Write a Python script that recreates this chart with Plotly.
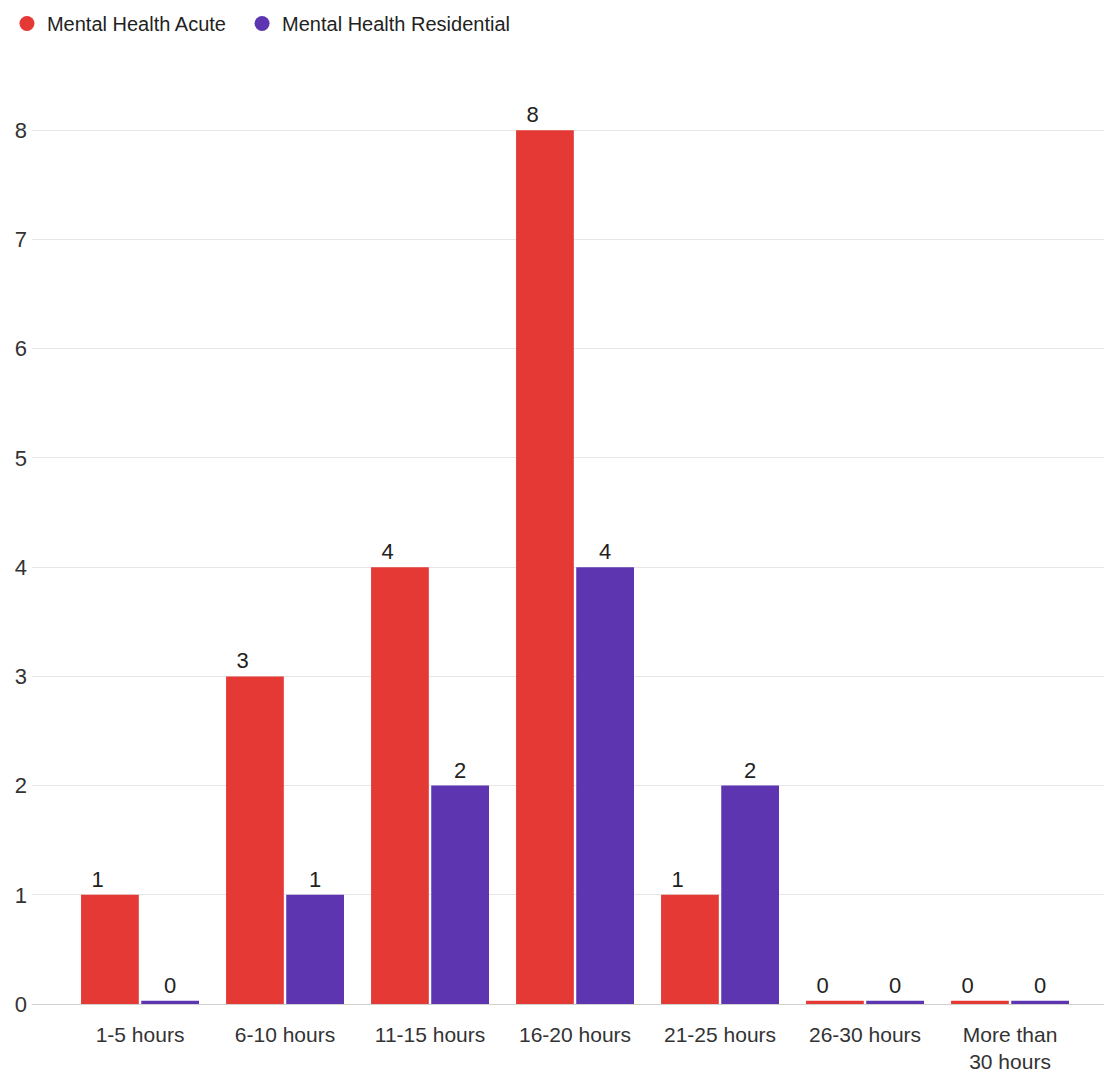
import plotly.graph_objects as go

categories = ["1-5 hours", "6-10 hours", "11-15 hours", "16-20 hours",
              "21-25 hours", "26-30 hours", "More than<br>30 hours"]
acute = [1, 3, 4, 8, 1, 0, 0]
residential = [0, 1, 2, 4, 2, 0, 0]
y_ticks = [0, 1, 2, 3, 4, 5, 6, 7, 8]
series_names = ["Mental Health Acute", "Mental Health Residential"]

RED = "#E53935"
PURPLE = "#5E35B1"
MIN_VISIBLE = 0.03  # zero values drawn as a thin baseline stroke
FONT = "Liberation Sans, Arial, sans-serif"
NBSP = "\u00a0"
LABEL_SIZE = 22

def shown(vals):
    return [v if v > 0 else MIN_VISIBLE for v in vals]

fig = go.Figure()
fig.add_trace(go.Bar(
    name=series_names[0], x=categories, y=shown(acute),
    text=[str(v) + NBSP * 4 for v in acute], textposition="outside",
    marker=dict(color=RED, line=dict(width=0)),
    textfont=dict(family=FONT, size=LABEL_SIZE, color="#222"),
    cliponaxis=False, showlegend=False, hoverinfo="skip",
))
fig.add_trace(go.Bar(
    name=series_names[1], x=categories, y=shown(residential),
    text=[str(v) for v in residential], textposition="outside",
    marker=dict(color=PURPLE, line=dict(width=0)),
    textfont=dict(family=FONT, size=LABEL_SIZE, color="#222"),
    cliponaxis=False, showlegend=False, hoverinfo="skip",
))
# legend entries with round markers
legend_pad = [NBSP * 2, ""]
for name, col, pad in zip(series_names, [RED, PURPLE], legend_pad):
    fig.add_trace(go.Scatter(
        x=[None], y=[None], mode="markers", name=name + pad,
        marker=dict(symbol="circle", size=15, color=col),
    ))

fig.update_layout(
    width=1104, height=1076,
    margin=dict(l=32, r=0, t=43, b=72, autoexpand=False),
    paper_bgcolor="white", plot_bgcolor="white",
    barmode="group", bargap=0.17, bargroupgap=0.04,
    font=dict(family=FONT, size=LABEL_SIZE, color="#444"),
    showlegend=True,
    legend=dict(orientation="h", xref="container", x=0.0063, xanchor="left",
                yref="container", y=0.9963, yanchor="top",
                font=dict(family=FONT, size=20, color="#222"),
                traceorder="normal"),
    xaxis=dict(range=[-0.745, 6.648], showgrid=False, showline=False,
               ticks="", ticklabelstandoff=16,
               tickfont=dict(family=FONT, size=21, color="#333")),
    yaxis=dict(range=[0, 8.8], tickvals=y_ticks, showgrid=True,
               gridcolor="#e6e6e6", gridwidth=1, zeroline=True,
               zerolinecolor="#d0d0d0", zerolinewidth=1,
               ticks="", ticklabelstandoff=4,
               tickfont=dict(family=FONT, size=LABEL_SIZE, color="#333")),
)

fig.write_html("out.html", config={"displayModeBar": False},
               post_script="document.body.style.margin='0';")
